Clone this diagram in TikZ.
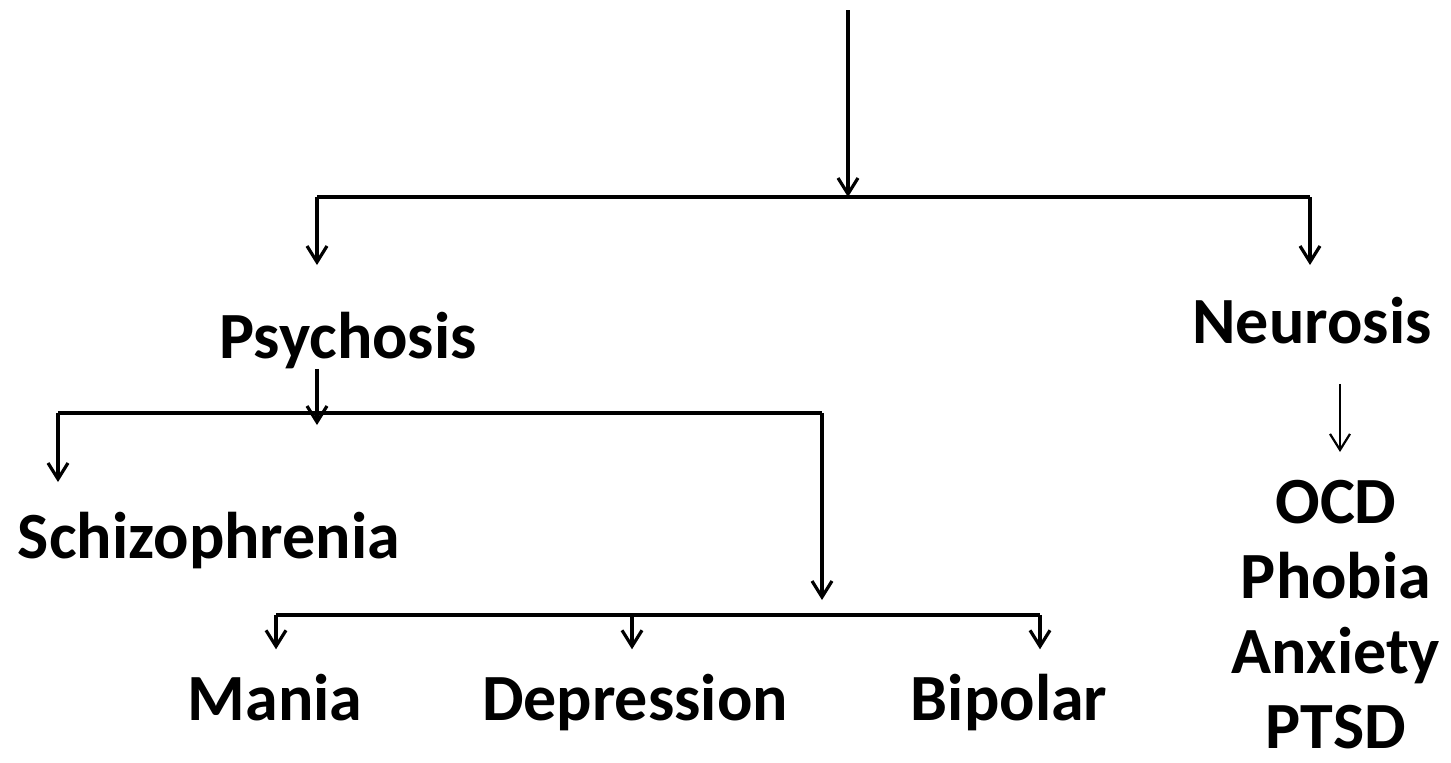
\documentclass[tikz,border=0pt]{standalone}
\usepackage{fontspec}
\setmainfont{Carlito}
\usetikzlibrary{arrows.meta}
\begin{document}
\begin{tikzpicture}[x=0.5pt, y=-0.5pt, line join=round,
	lbl/.style={font=\bfseries\fontsize{33}{37.5}\selectfont, anchor=base, inner sep=0pt},
	ln/.style={line width=1.6pt},
	arr/.style={ln, -{Straight Barb[length=8pt,width=10pt]}}]
	\useasboundingbox (0,0) rectangle (1451,762);
	
	% Nhãn
	\node[lbl] (psy) at (348,358) {Psychosis};
	\node[lbl] (neu) at (1312,343) {Neurosis};
	\node[lbl] (sch) at (209,558) {Schizophrenia};
	\node[lbl] (man) at (275,720) {Mania};
	\node[lbl] (dep) at (635,720) {Depression};
	\node[lbl] (bip) at (1009,720) {Bipolar};
	\node[lbl, align=center, anchor=north] (neulist) at (1336,480)
		{OCD\\Phobia\\Anxiety\\PTSD};
	
	% Các điểm nối
	\coordinate (top) at (848,10);   \coordinate (j0) at (848,197);
	\coordinate (jl) at (317,197);   \coordinate (jr) at (1310,197);
	\coordinate (psyin) at (317,265); \coordinate (neuin) at (1310,265);
	\coordinate (p0) at (317,413);   \coordinate (p1) at (317,425);
	\coordinate (pl) at (58,413);    \coordinate (pr) at (822,413);
	\coordinate (schin) at (58,482); \coordinate (m0) at (822,600);
	\coordinate (ml) at (276,615);   \coordinate (mr) at (1040,615);
	\coordinate (md) at (632,615);
	
	% Mũi tên
	\draw[arr] (top) -- (j0);
	\draw[ln] (jl) -- (jr);
	\draw[arr] (jl) -- (psyin);
	\draw[arr] (jr) -- (neuin);
	\draw[arr] (psy.south -| p0) -- (p1);
	\draw[ln] (pl) -- (pr);
	\draw[arr] (pl) -- (schin);
	\draw[arr] (pr) -- (m0);
	\draw[ln] (ml) -- (mr);
	\foreach \c/\n in {ml/man, md/dep, mr/bip}
		\draw[arr] (\c) -- ([yshift=12pt]\c |- \n.north);
	\draw[arr, line width=1.1pt] ([yshift=-20pt]1340,0 |- neu.south) -- ([yshift=14pt]1340,0 |- neulist.north);
\end{tikzpicture}
\end{document}
